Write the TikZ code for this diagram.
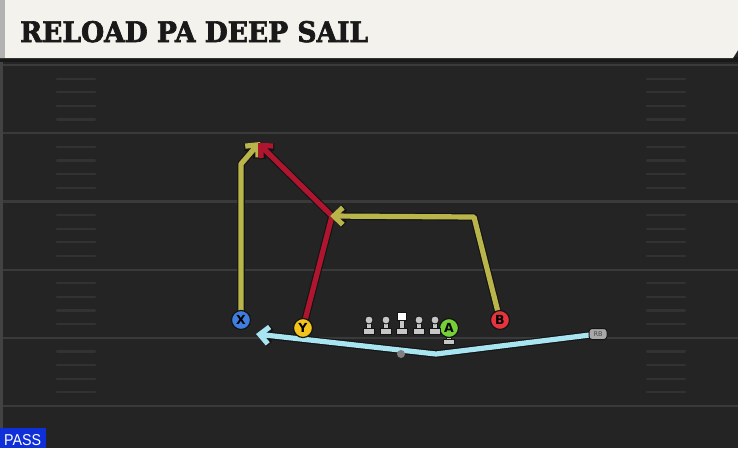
\documentclass[tikz,border=0pt]{standalone}
\usepackage{fontspec}
\setsansfont{DejaVu Sans}
\newfontfamily\titlefont{DejaVu Serif}[BoldFeatures={FakeBold=2.5}]
\newfontfamily\passfont{Liberation Sans}
\usetikzlibrary{arrows.meta,backgrounds}
\definecolor{fieldc}{HTML}{242424}
\definecolor{titlec}{HTML}{F4F2EC}
\definecolor{yardc}{HTML}{3A3A3A}
\definecolor{hashc}{HTML}{323232}
\definecolor{rimc}{HTML}{141414}
\definecolor{yelc}{HTML}{B9B54B}
\definecolor{redc}{HTML}{B0152F}
\definecolor{bluec}{HTML}{A9E4F1}
\definecolor{xfill}{HTML}{3F7EDE}
\definecolor{yfill}{HTML}{F3C31B}
\definecolor{bfill}{HTML}{E5343E}
\definecolor{afill}{HTML}{74CF38}
\definecolor{lmc}{HTML}{C6C6C6}
\definecolor{passc}{HTML}{0F2FD9}
\tikzset{
  player/.style={circle, minimum size=19pt, inner sep=0pt, draw=rimc, line width=1.2pt,
    font=\sffamily\bfseries\fontsize{12.5}{12.5}\selectfont, text=black},
  yardline/.style={draw=yardc, line width=2.2pt},
  hashmark/.style={draw=hashc, line width=2.2pt, line cap=round},
  rtip/.style={-{Straight Barb[length=9pt,width=17pt]}, line join=round},
  lmpart/.style={fill=lmc, draw=rimc, line width=0.8pt},
  lineman/.pic={
    \filldraw[lmpart] (-2.2,0) rectangle (2.2,9);
    \filldraw[lmpart] (-5.2,8.5) rectangle (5.2,14);
    \filldraw[lmpart] (0,0) circle (4);
  },
  centerman/.pic={
    \filldraw[lmpart] (-2.2,0) rectangle (2.2,9);
    \filldraw[lmpart] (-5.2,8.5) rectangle (5.2,14);
    \filldraw[lmpart, fill=white] (-4.2,-8) rectangle (4.2,0.5);
  }
}
\begin{document}
\begin{tikzpicture}[x=1pt,y=-1pt]
\useasboundingbox (0,0) rectangle (738,448);
% players
\node[player, fill=xfill] (X) at (241,320) {X};
\node[player, fill=yfill] (Y) at (303,328) {Y};
\node[player, fill=bfill] (B) at (500,320) {B};
\node[player, fill=afill] (A) at (449,328) {A};
\node[draw=rimc, fill=lmc!85!black, line width=1pt,
  rounded corners=3pt, minimum width=18pt, minimum height=11pt, inner sep=0pt,
  font=\sffamily\fontsize{6.5}{6.5}\selectfont, text=black!70] (RB) at (598,334) {RB};
% line
\pic at (369,320) {lineman};
\pic at (386,320) {lineman};
\pic at (402,320) {centerman};
\pic at (419,320) {lineman};
\pic at (435,320) {lineman};
% route points
\coordinate (xc) at (241,164);
\coordinate (xt) at (260,142);
\coordinate (yc) at (332,216);
\coordinate (yt) at (258,143);
\coordinate (bc) at (474,217);
\coordinate (bt) at (330,216);
\coordinate (rc) at (436,354);
\coordinate (rt) at (256,334);
\begin{scope}[on background layer]
  \fill[fieldc] (0,0) rectangle (738,448);
  \fill[rimc!80] (0,62) rectangle (3,448);
  \foreach \k in {0,...,5} \draw[yardline] (3,{65+68.2*\k}) -- (738,{65+68.2*\k});
  \foreach \k in {0,...,4} \foreach \j in {1,...,4} {
    \draw[hashmark] (57,{65+68.2*\k+13.64*\j}) -- (95,{65+68.2*\k+13.64*\j});
    \draw[hashmark] (647,{65+68.2*\k+13.64*\j}) -- (685,{65+68.2*\k+13.64*\j});
  }
  % title bar
  \fill[black!90] (0,57) rectangle (738,62);
  \fill[titlec] (0,0) -- (738,0) -- (738,50) -- (733,58) -- (0,58) -- cycle;
  \fill[black!30] (0,0) rectangle (5,58);
  \node[anchor=base west, inner sep=0pt, text=black!90] (title) at (20,42)
    {\resizebox{348pt}{21pt}{\titlefont\bfseries RELOAD PA DEEP SAIL}};
  % routes
  \foreach \w/\c in {7.5/rimc,5.2/yelc}
    \draw[rtip, line width=\w pt, draw=\c] (X.center) -- (xc) -- (xt);
  \foreach \w/\c in {7.5/rimc,5.2/redc}
    \draw[rtip, line width=\w pt, draw=\c] (Y.center) -- (yc) -- (yt);
  \foreach \w/\c in {7.5/rimc,5.2/yelc}
    \draw[rtip, line width=\w pt, draw=\c] (B.center) -- (bc) -- (bt);
  \foreach \w/\c in {7.5/rimc,5.2/bluec}
    \draw[rtip, line width=\w pt, draw=\c] (RB.center) -- (rc) -- (rt);
  \fill[black!50] (401,354) circle (4);
  % A stand
  \filldraw[lmpart] (446.8,335) rectangle (451.2,341);
  \filldraw[lmpart] (443.5,339.5) rectangle (454.5,344.5);
  % pass label
  \fill[passc] (0,428) rectangle (46,448);
  \node[anchor=base west, inner sep=0pt, text=white] (pass) at (4,445)
    {\resizebox{37pt}{11pt}{\passfont PASS}};
\end{scope}
\end{tikzpicture}
\end{document}
